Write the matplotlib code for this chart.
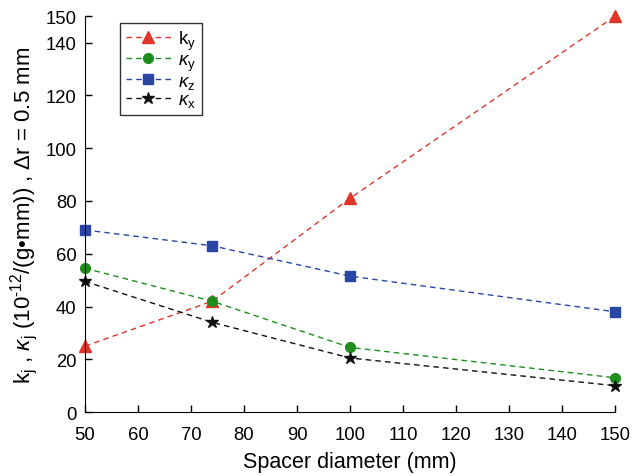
import matplotlib
matplotlib.use("Agg")
import matplotlib.pyplot as plt

plt.rcParams['font.family'] = ['Liberation Sans', 'DejaVu Sans']
plt.rcParams['mathtext.fontset'] = 'custom'
plt.rcParams['mathtext.rm'] = 'Liberation Sans'
plt.rcParams['mathtext.it'] = 'Liberation Sans:italic'

spacer = [50, 74, 100, 150]
k_y = [25, 42, 81, 150]
kappa_y = [54.5, 42, 24.5, 13]
kappa_z = [69, 63, 51.5, 38]
kappa_x = [49.5, 34, 20.5, 10]

series = [
    (k_y, r'k$_\mathrm{y}$', '#e2352a', '^', 8),
    (kappa_y, r'$\kappa_\mathrm{y}$', '#1e8c1e', 'o', 7),
    (kappa_z, r'$\kappa_\mathrm{z}$', '#2b45a5', 's', 6.5),
    (kappa_x, r'$\kappa_\mathrm{x}$', '#111111', '*', 9),
]

fig = plt.figure(figsize=(6.44, 4.77), dpi=100)
ax = fig.add_axes([0.132, 0.134, 0.823, 0.830])

for vals, lab, col, mk, ms in series:
    ax.plot(spacer, vals, linestyle=(0, (4, 3)), color=col, marker=mk,
            markersize=ms, linewidth=1, label=lab, clip_on=False)

ax.set_xlim(50, 150)
ax.set_ylim(0, 150)
ax.set_xticks(range(50, 151, 10))
ax.set_yticks([0, 20, 40, 60, 80, 100, 120, 140, 150])
ax.spines['top'].set_visible(False)
ax.spines['right'].set_visible(False)
ax.tick_params(direction='in', labelsize=13.3, length=5, width=1)
ax.tick_params(axis='x', pad=10)
ax.tick_params(axis='y', pad=6)
ax.set_xlabel('Spacer diameter (mm)', fontsize=15.5, labelpad=6)
ax.set_ylabel('k$_\\mathrm{j}$ , $\\kappa_\\mathrm{j}$ (10$^{\\mathrm{\u2010}12}$/(g\u2022mm)) , \u0394r = 0.5 mm',
              fontsize=16, labelpad=4)

leg = ax.legend(loc='upper left', bbox_to_anchor=(0.066, 0.983), fontsize=13.5,
                frameon=True, fancybox=False, edgecolor='black', borderaxespad=0,
                handlelength=2.4, labelspacing=0.0, borderpad=0.3, handletextpad=0.4)
leg.get_frame().set_linewidth(1)

fig.savefig('out.png', dpi=100)
